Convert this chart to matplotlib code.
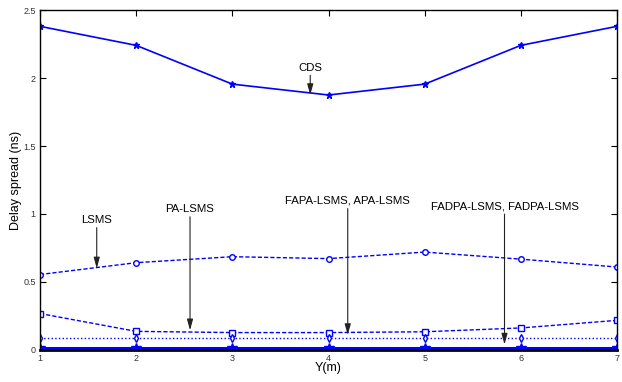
import matplotlib
matplotlib.use("Agg")
import matplotlib.pyplot as plt

plt.rcParams['font.family'] = ['Liberation Sans', 'DejaVu Sans']

y_pos = [1, 2, 3, 4, 5, 6, 7]
cds = [2.38, 2.24, 1.955, 1.875, 1.955, 2.24, 2.38]
lsms = [0.555, 0.642, 0.686, 0.672, 0.72, 0.668, 0.61]
pa_lsms = [0.268, 0.137, 0.128, 0.128, 0.134, 0.162, 0.218]
fapa_lsms = [0.086, 0.086, 0.086, 0.086, 0.086, 0.086, 0.086]
fadpa_lsms = [0.012, 0.012, 0.012, 0.012, 0.012, 0.012, 0.012]

xticks = [1, 2, 3, 4, 5, 6, 7]
yticks = [0, 0.5, 1, 1.5, 2, 2.5]
ytick_labels = ['0', '0.5', '1', '1.5', '2', '2.5']

fig = plt.figure(figsize=(6.22, 3.82), dpi=100)
ax = fig.add_axes([0.0643, 0.0838, 0.9277, 0.8900])

blue = '#0000ff'
ax.plot(y_pos, cds, '-', color=blue, lw=1.2, marker='*', ms=5, mfc=blue, mec=blue)
ax.plot(y_pos, lsms, '--', color=blue, lw=1.0, marker='o', ms=4, mfc='white', mec=blue, dashes=(3, 1.5))
ax.plot(y_pos, pa_lsms, '--', color=blue, lw=1.0, marker='s', ms=4, mfc='white', mec=blue, dashes=(3, 1.5))
ax.plot(y_pos, fapa_lsms, ':', color=blue, lw=1.0, marker='d', ms=4, mfc='white', mec=blue)
ax.plot(y_pos, fadpa_lsms, '-', color=blue, lw=2.2, marker='*', ms=7, mfc=blue, mec=blue)

ax.set_xlim(1, 7)
ax.set_ylim(0, 2.5)
ax.set_xticks(xticks)
ax.set_xticklabels([str(v) for v in xticks])
ax.set_yticks(yticks)
ax.set_yticklabels(ytick_labels)
ax.tick_params(direction='in', top=True, right=True, labelsize=6.5, length=4, width=0.8, pad=3, labelcolor='#333333')
for s in ax.spines.values():
    s.set_linewidth(1.0)
ax.spines['bottom'].set_linewidth(2.0)

ax.set_xlabel('Y(m)', fontsize=9, labelpad=-1)
ax.set_ylabel('Delay spread (ns)', fontsize=9)
ax.yaxis.set_label_coords(-0.031, 0.5)

fs = 8.2
arrowprops = dict(arrowstyle='-|>,head_length=0.8,head_width=0.22', color='#222222', lw=0.8, shrinkA=0, shrinkB=0)
ax.annotate('CDS', xy=(3.81, 1.875), xytext=(3.81, 2.04), fontsize=fs, ha='center', va='bottom', arrowprops=arrowprops)
ax.annotate('LSMS', xy=(1.59, 0.6), xytext=(1.59, 0.92), fontsize=fs, ha='center', va='bottom', arrowprops=arrowprops)
ax.annotate('PA-LSMS', xy=(2.56, 0.145), xytext=(2.56, 1.0), fontsize=fs, ha='center', va='bottom', arrowprops=arrowprops)
ax.annotate('FAPA-LSMS, APA-LSMS', xy=(4.2, 0.11), xytext=(4.2, 1.06), fontsize=fs, ha='center', va='bottom', arrowprops=arrowprops)
ax.annotate('FADPA-LSMS, FADPA-LSMS', xy=(5.83, 0.04), xytext=(5.83, 1.02), fontsize=fs, ha='center', va='bottom', arrowprops=arrowprops)

fig.savefig('out.png', dpi=100)
